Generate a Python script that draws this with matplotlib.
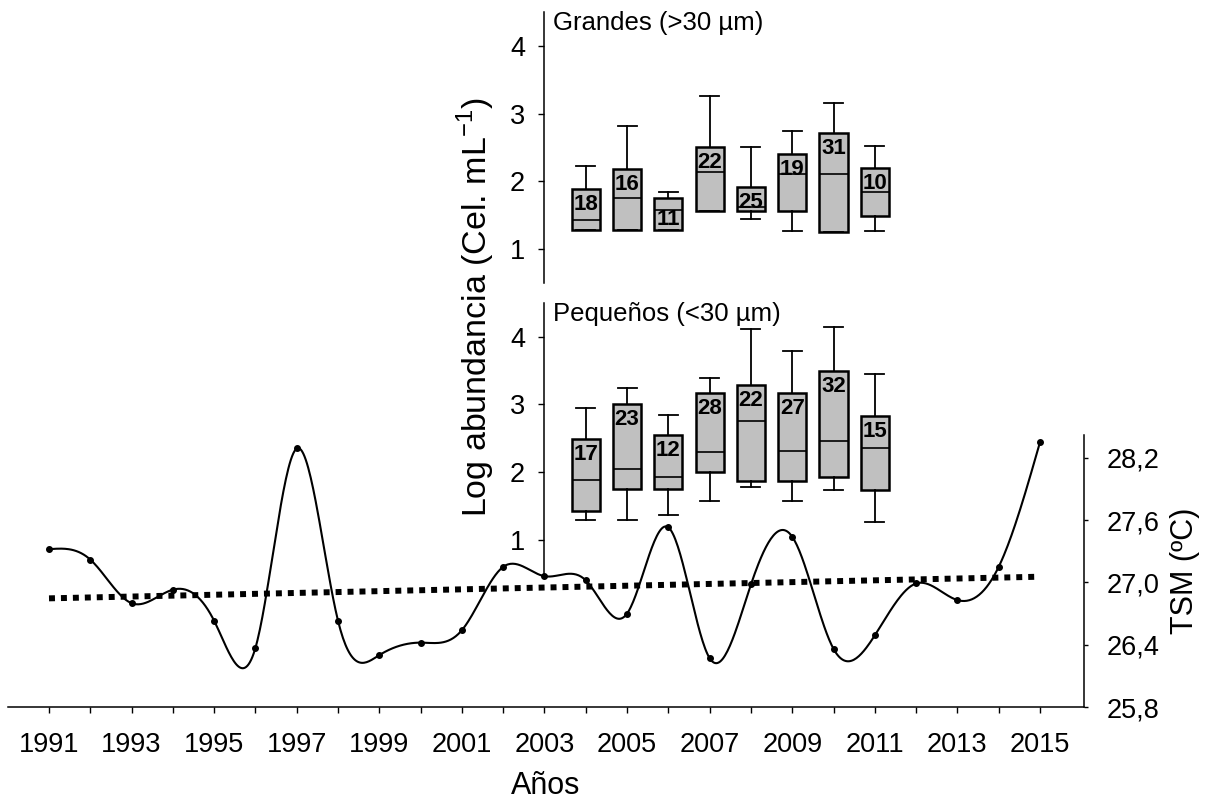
import numpy as np
import matplotlib
matplotlib.use("Agg")
import matplotlib.pyplot as plt

plt.rcParams['font.family'] = ['Liberation Sans', 'DejaVu Sans']
plt.rcParams['mathtext.fontset'] = 'custom'
plt.rcParams['mathtext.rm'] = 'Liberation Sans'

# Sea surface temperature series (TSM, ºC)
years = np.arange(1991, 2016)
tsm = [27.32, 27.22, 26.80, 26.93, 26.63, 26.37, 28.29, 26.63, 26.30, 26.42,
       26.54, 27.15, 27.06, 27.02, 26.70, 27.53, 26.27, 26.98, 27.44, 26.36,
       26.49, 26.99, 26.83, 27.15, 28.35]
tsm_ticks = [25.8, 26.4, 27.0, 27.6, 28.2]
tsm_tick_labels = ['25,8', '26,4', '27,0', '27,6', '28,2']

# Phytoplankton log abundance box statistics per year
box_years = [2004, 2005, 2006, 2007, 2008, 2009, 2010, 2011]

grandes_lo = [1.28, 1.28, 1.28, 1.57, 1.45, 1.27, 1.25, 1.27]
grandes_q1 = [1.28, 1.28, 1.28, 1.57, 1.57, 1.56, 1.26, 1.49]
grandes_med = [1.43, 1.75, 1.58, 2.14, 1.62, 2.11, 2.11, 1.85]
grandes_q3 = [1.89, 2.19, 1.75, 2.51, 1.92, 2.41, 2.71, 2.20]
grandes_hi = [2.23, 2.81, 1.85, 3.26, 2.51, 2.75, 3.15, 2.52]
grandes_n = [18, 16, 11, 22, 25, 19, 31, 10]

pequenos_lo = [1.29, 1.29, 1.36, 1.58, 1.78, 1.57, 1.73, 1.27]
pequenos_q1 = [1.43, 1.75, 1.75, 2.00, 1.87, 1.87, 1.93, 1.74]
pequenos_med = [1.88, 2.05, 1.93, 2.30, 2.75, 2.31, 2.46, 2.35]
pequenos_q3 = [2.49, 3.01, 2.55, 3.17, 3.29, 3.17, 3.50, 2.83]
pequenos_hi = [2.95, 3.25, 2.84, 3.39, 4.11, 3.79, 4.15, 3.45]
pequenos_n = [17, 23, 12, 28, 22, 27, 32, 15]

abund_ticks = [1, 2, 3, 4]


def natural_cubic_spline(x, y, xs):
    x = np.asarray(x, float)
    y = np.asarray(y, float)
    n = len(x)
    h = np.diff(x)
    A = np.zeros((n, n))
    rhs = np.zeros(n)
    A[0, 0] = 1.0
    A[-1, -1] = 1.0
    for i in range(1, n - 1):
        A[i, i - 1] = h[i - 1]
        A[i, i] = 2 * (h[i - 1] + h[i])
        A[i, i + 1] = h[i]
        rhs[i] = 6 * ((y[i + 1] - y[i]) / h[i] - (y[i] - y[i - 1]) / h[i - 1])
    M = np.linalg.solve(A, rhs)
    idx = np.clip(np.searchsorted(x, xs) - 1, 0, n - 2)
    x0, x1 = x[idx], x[idx + 1]
    hh = x1 - x0
    return (M[idx] * (x1 - xs) ** 3 / (6 * hh) + M[idx + 1] * (xs - x0) ** 3 / (6 * hh)
            + (y[idx] / hh - M[idx] * hh / 6) * (x1 - xs)
            + (y[idx + 1] / hh - M[idx + 1] * hh / 6) * (xs - x0))


W, H = 1210, 801
fig = plt.figure(figsize=(W / 100, H / 100), dpi=100)


def frac_rect(x0, y0, x1, y1):
    # pixel box (top-left origin) -> figure fraction rect
    return [x0 / W, 1 - y1 / H, (x1 - x0) / W, (y1 - y0) / H]


TICK = 19.5
LW_SPINE = 1.1

# ---- temperature panel ----
ax = fig.add_axes(frac_rect(8, 435, 1084, 707))
ax.patch.set_alpha(0)
xs = np.linspace(years[0], years[-1], 800)
ax.plot(xs, natural_cubic_spline(years, tsm, xs), color='black', lw=1.5, zorder=3)
ax.plot(years, tsm, 'o', color='black', ms=4, zorder=4)

slope, intercept = np.polyfit(years, tsm, 1)
trend_x = np.array([years[0], years[-1]])
ax.plot(trend_x, slope * trend_x + intercept, color='black', lw=4.3,
        linestyle=(0, (1, 1)), dash_capstyle='butt', zorder=2)

ax.set_xlim(1990.007, 2016.066)
ax.set_ylim(25.8, 28.42)
ax.spines['left'].set_visible(False)
ax.spines['top'].set_visible(False)
ax.spines['right'].set_linewidth(LW_SPINE)
ax.spines['bottom'].set_linewidth(LW_SPINE)
ax.yaxis.tick_right()
ax.yaxis.set_label_position('right')
ax.set_yticks(tsm_ticks)
ax.set_yticklabels(tsm_tick_labels)
ax.set_xticks(years)
ax.set_xticklabels([str(y) if (y - 1991) % 2 == 0 else '' for y in years])
ax.tick_params(axis='x', direction='out', length=4, width=1, labelsize=TICK, pad=14)
ax.tick_params(axis='y', direction='out', length=3, width=1, labelsize=TICK, pad=13)
ax.set_ylabel('TSM (ºC)', fontsize=22, labelpad=8)
ax.set_xlabel('Años', fontsize=22, labelpad=9)


# ---- abundance panels ----
def year_px(yr):
    return 49 + (yr - 1991) * 41.29


def box_panel(rect_px, ylim, lo, q1, med, q3, hi, ns, title):
    bx = fig.add_axes(frac_rect(*rect_px))
    bx.patch.set_alpha(0)
    stats = [dict(whislo=a, q1=b, med=c, q3=d, whishi=e)
             for a, b, c, d, e in zip(lo, q1, med, q3, hi)]
    bx.bxp(stats, positions=box_years, widths=0.68, showfliers=False,
           patch_artist=True, capwidths=0.46,
           boxprops=dict(facecolor='#c0c0c0', edgecolor='black', linewidth=1.8),
           medianprops=dict(color='black', linewidth=1.2),
           whiskerprops=dict(color='black', linewidth=1.3),
           capprops=dict(color='black', linewidth=1.3))
    for x, m, a, d, n in zip(box_years, med, q1, q3, ns):
        if d - m < 0.25:
            ty = (m + a) / 2
        else:
            ty = d - 0.23
        bx.text(x, ty, str(n), ha='center', va='center', fontsize=16,
                fontweight='bold', color='black', zorder=5)
    bx.set_xlim(2003, 2012.5)
    bx.set_ylim(*ylim)
    for s in ('top', 'right', 'bottom'):
        bx.spines[s].set_visible(False)
    bx.spines['left'].set_linewidth(LW_SPINE)
    bx.set_xticks([])
    bx.set_yticks(abund_ticks)
    bx.tick_params(axis='y', direction='out', length=4, width=1, labelsize=TICK, pad=10)
    bx.text(0.022, 0.96, title, transform=bx.transAxes, ha='left', va='center',
            fontsize=18.5)
    return bx


px_left = year_px(2003)
px_right = year_px(2012.5)
box_panel((px_left, 12, px_right, 283), (0.5, 4.5), grandes_lo, grandes_q1,
          grandes_med, grandes_q3, grandes_hi, grandes_n, 'Grandes (>30 µm)')
box_panel((px_left, 303, px_right, 577), (0.45, 4.5), pequenos_lo, pequenos_q1,
          pequenos_med, pequenos_q3, pequenos_hi, pequenos_n, 'Pequeños (<30 µm)')

fig.text(476 / W, 1 - 307 / H, r'Log abundancia (Cel. mL$^{\mathregular{-1}}$)',
         rotation=90, ha='center', va='center', fontsize=24.5)

fig.savefig('out.png', dpi=100)
